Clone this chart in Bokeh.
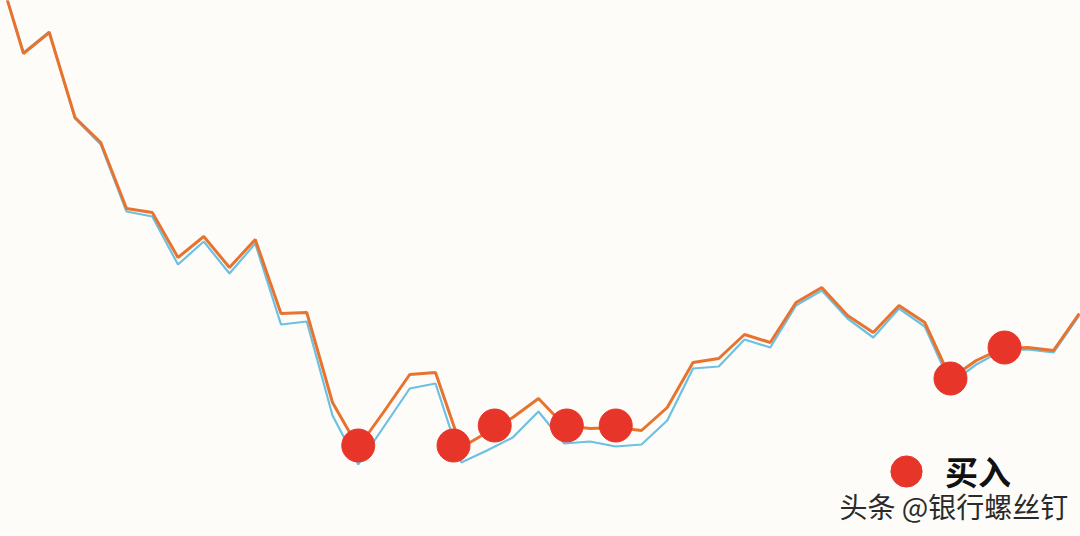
from bokeh.plotting import figure
from bokeh.models import Range1d, Legend, LegendItem, Label
from bokeh.embed import file_html
from bokeh.resources import INLINE

# week index
weeks = list(range(-1, 42))
# series values (arbitrary index units)
orange_vals = [56.8, 48.3, 50.4, 41.9, 39.4, 32.8, 32.4, 27.9, 30.0, 26.9, 29.7,
               22.3, 22.4, 13.4, 8.9, 12.5, 16.2, 16.4, 8.9, 10.4, 11.9, 13.8,
               11.1, 10.8, 10.9, 10.6, 12.9, 17.4, 17.8, 20.2, 19.4, 23.4, 24.9,
               22.1, 20.4, 23.1, 21.4, 15.8, 17.6, 18.8, 18.9, 18.6, 22.3]
blue_vals = [56.8, 48.4, 50.5, 41.8, 39.2, 32.5, 32.0, 27.2, 29.5, 26.3, 29.3,
             21.2, 21.5, 12.1, 7.2, 11.0, 14.8, 15.3, 7.4, 8.6, 9.9, 12.5,
             9.3, 9.5, 9.0, 9.2, 11.6, 16.8, 17.0, 19.7, 18.9, 23.1, 24.6,
             21.8, 19.9, 22.8, 21.0, 15.3, 17.2, 18.6, 18.7, 18.4, 22.1]
# buy points
buy_x = [13.0, 16.7, 18.3, 21.1, 23.0, 36.0, 38.1]
buy_y = [9.1, 9.1, 11.1, 11.1, 11.1, 15.8, 18.9]
legend_label = "买入"
watermark = "头条 @银行螺丝钉"

BG = "#fdfcf9"
p = figure(width=1080, height=536, output_backend="svg", toolbar_location=None,
           x_range=Range1d(-0.8932, 41.0485), y_range=Range1d(0, 53.6),
           min_border=0, background_fill_color=BG, border_fill_color=BG)
p.axis.visible = False
p.grid.visible = False
p.outline_line_color = None

p.line(weeks, blue_vals, line_color="#6cc0e2", line_width=2.2)
p.line(weeks, orange_vals, line_color="#e8732e", line_width=3)
dots = p.scatter(buy_x, buy_y, size=33, fill_color="#e8352a", line_color="#e8352a")

legend = Legend(items=[LegendItem(label=legend_label, renderers=[dots])],
                location=(867, 26), glyph_width=78, glyph_height=78,
                label_standoff=0, padding=0, margin=0, spacing=0,
                border_line_color=None, background_fill_alpha=0,
                label_text_font="Noto Sans CJK SC", label_text_font_size="33px",
                label_text_font_style="bold", label_text_color="#111111")
p.add_layout(legend, "center")

p.add_layout(Label(x=839, y=31, x_units="screen", y_units="screen", text=watermark,
                   text_font="Noto Sans CJK SC", text_font_size="28px",
                   text_color="#2a2a2a", text_baseline="middle"))

open("out.html", "w").write(file_html(p, INLINE))
